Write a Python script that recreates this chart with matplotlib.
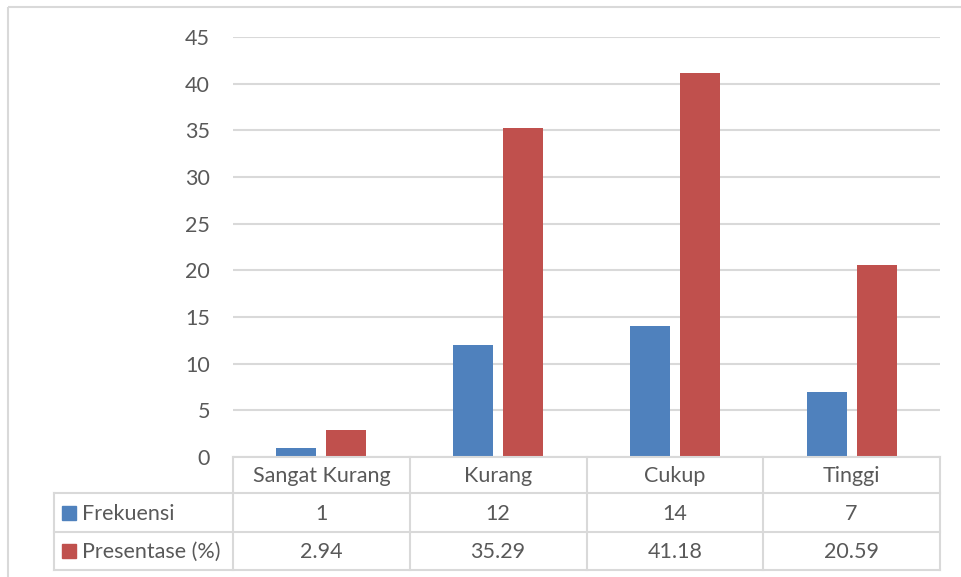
import matplotlib
matplotlib.use("Agg")
import matplotlib.pyplot as plt
from matplotlib.patches import Rectangle

# Data
categories = ["Sangat Kurang", "Kurang", "Cukup", "Tinggi"]
series_names = ["Frekuensi", "Presentase (%)"]
frekuensi = [1, 12, 14, 7]
presentase = [2.94, 35.29, 41.18, 20.59]
presentase_labels = ["2.94", "35.29", "41.18", "20.59"]
y_ticks = [0, 5, 10, 15, 20, 25, 30, 35, 40, 45]

BLUE = "#4F81BD"
RED = "#C0504D"
GRID = "#D9D9D9"
TEXT = "#595959"
FONT = ["Lato", "DejaVu Sans"]
FS = 15.5

W, H = 961, 577
fig = plt.figure(figsize=(W / 100, H / 100), dpi=100)
fig.patch.set_facecolor("white")

# Plot area (pixel layout)
px_left, px_right, px_top, px_bottom = 233, 940, 37, 457


def fx(x):
    return x / W


def fy(y):
    return 1 - y / H


ax = fig.add_axes([fx(px_left), fy(px_bottom), (px_right - px_left) / W,
                   (px_bottom - px_top) / H])
n = len(categories)
ax.set_xlim(0, n)
ax.set_ylim(0, 45)
ax.set_yticks(y_ticks)
ax.set_yticklabels([str(t) for t in y_ticks], fontfamily=FONT, fontsize=FS,
                   color=TEXT)
ax.tick_params(axis="y", length=0, pad=16.5)
ax.set_xticks([])
ax.grid(axis="y", color=GRID, linewidth=1.5)
ax.set_axisbelow(True)
for s in ax.spines.values():
    s.set_visible(False)

bar_w = 0.226
offset = 0.1414
xs = [i + 0.5 for i in range(n)]
ax.bar([x - offset for x in xs], frekuensi, width=bar_w, color=BLUE,
       zorder=3)
ax.bar([x + offset for x in xs], presentase, width=bar_w, color=RED,
       zorder=3)

# Overlay in pixel coordinates for the data table and chart border
ov = fig.add_axes([0, 0, 1, 1], facecolor="none")
ov.set_xlim(0, W)
ov.set_ylim(H, 0)
ov.axis("off")

# outer chart border
ov.add_patch(Rectangle((8, 7), 1000, 1000, fill=False, edgecolor=GRID,
                       linewidth=1.5))

row_y = [457, 493, 532, 570]
tbl_left = 54
col_w = (px_right - px_left) / n
col_x = [px_left + i * col_w for i in range(n + 1)]
lw = 1.5
# horizontal lines
ov.plot([px_left, px_right], [row_y[0], row_y[0]], color=GRID, lw=lw)
for y in row_y[1:]:
    ov.plot([tbl_left, px_right], [y, y], color=GRID, lw=lw)
# vertical lines
for x in col_x:
    ov.plot([x, x], [row_y[0], row_y[-1]], color=GRID, lw=lw)
ov.plot([tbl_left, tbl_left], [row_y[1], row_y[-1]], color=GRID, lw=lw)

# header text
for i, c in enumerate(categories):
    ov.text(col_x[i] + col_w / 2, (row_y[0] + row_y[1]) / 2 + 1, c,
            ha="center", va="center", fontfamily=FONT, fontsize=FS,
            color=TEXT)

rows = [
    (series_names[0], BLUE, [str(v) for v in frekuensi]),
    (series_names[1], RED, presentase_labels),
]
for r, (name, color, vals) in enumerate(rows):
    yc = (row_y[r + 1] + row_y[r + 2]) / 2
    ov.add_patch(Rectangle((62, yc - 7), 14, 14, color=color))
    ov.text(82, yc + 1, name, ha="left", va="center", fontfamily=FONT,
            fontsize=FS, color=TEXT)
    for i, v in enumerate(vals):
        ov.text(col_x[i] + col_w / 2, yc + 1, v, ha="center", va="center",
                fontfamily=FONT, fontsize=FS, color=TEXT)

fig.savefig("out.png", dpi=100)
